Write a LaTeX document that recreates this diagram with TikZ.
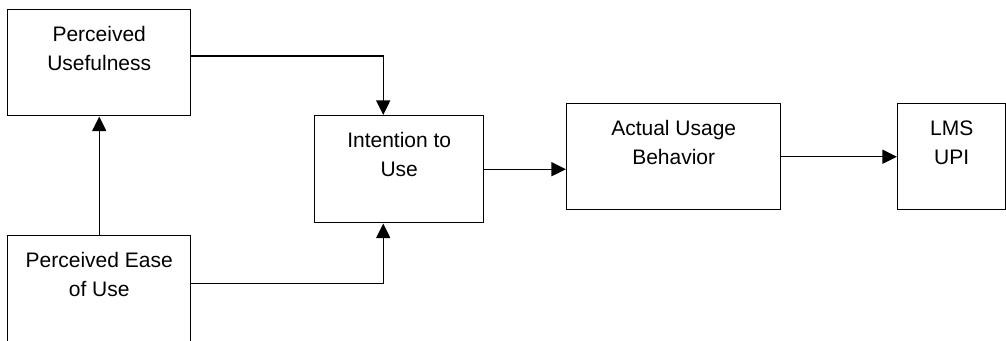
\documentclass[tikz,border=0pt]{standalone}
\usepackage{fontspec}
\setmainfont{Liberation Sans}
\usetikzlibrary{arrows.meta}

\tikzset{
  tambox/.style={draw, line width=1.1pt, anchor=north west, align=center,
    font=\fontsize{15.75pt}{21.75pt}\selectfont, inner sep=0pt},
  tamarrow/.style={line width=1.1pt, -{Triangle[length=11pt,width=10.5pt]}}
}

\begin{document}
\begin{tikzpicture}[x=0.75pt, y=-0.75pt]
    \useasboundingbox (0,0) rectangle (1006,340);

    % Predictors on the left
    \node[tambox, minimum width=183*0.75pt, minimum height=106*0.75pt] (pu) at (7,9) {Perceived\\Usefulness\\\mbox{}};
    \node[tambox, minimum width=183*0.75pt, minimum height=106*0.75pt] (peu) at (7,235) {Perceived Ease\\of Use\\\mbox{}};

    % Intention and behaviour
    \node[tambox, minimum width=169*0.75pt, minimum height=107*0.75pt] (itu) at (314,115) {Intention to\\Use\\\mbox{}};
    \node[tambox, minimum width=214*0.75pt, minimum height=106*0.75pt] (aub) at (566,103) {Actual Usage\\Behavior\\\mbox{}};

    % Outcome on the right
    \node[tambox, minimum width=108*0.75pt, minimum height=106*0.75pt] (lms) at (897,103) {LMS\\UPI\\\mbox{}};

    % Connectors
    \draw[tamarrow] (peu.north -| pu.south) -- (pu.south);
    \draw[tamarrow] ([yshift=5pt]pu.east) -| ([xshift=-12pt]itu.north);
    \draw[tamarrow] ([yshift=4pt]peu.east) -| ([xshift=-12pt]itu.south);
    \draw[tamarrow] (itu.east) -- (itu.east -| aub.west);
    \draw[tamarrow] (aub) -- (lms);
\end{tikzpicture}
\end{document}
